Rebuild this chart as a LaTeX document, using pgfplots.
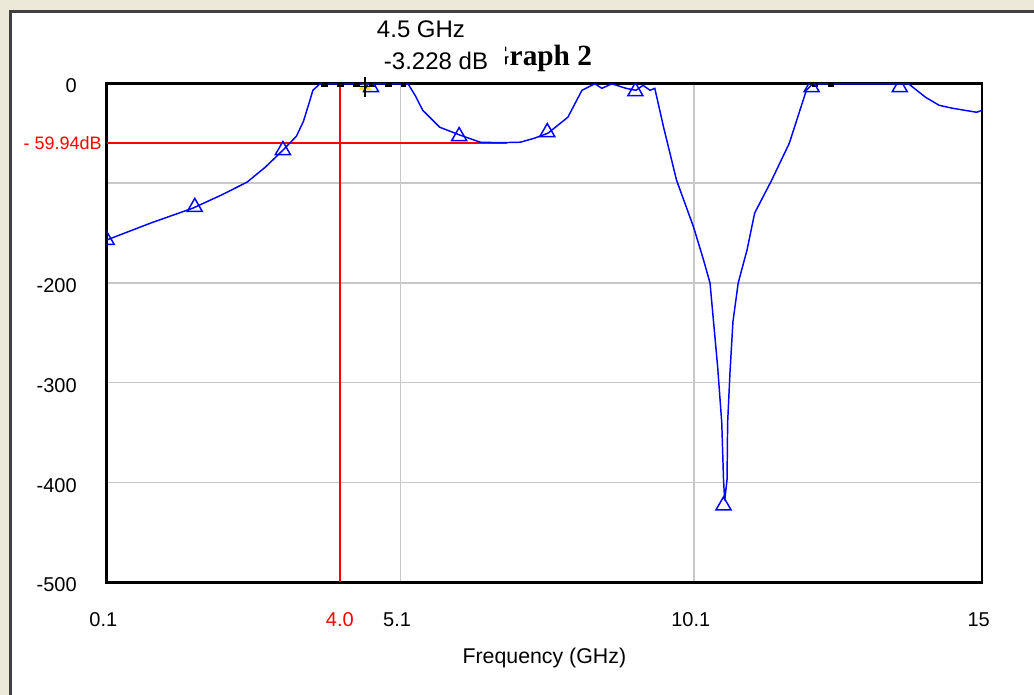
\documentclass[border=0pt]{standalone}
\usepackage{pgfplots}
\pgfplotsset{compat=1.18}
\usepackage{fontspec}
\setmainfont{Liberation Sans}
\newfontfamily\titlefont{Liberation Serif}
\definecolor{winbeige}{RGB}{236,233,216}
\definecolor{framegray}{RGB}{64,64,64}
\definecolor{gridgray}{RGB}{200,200,200}
\definecolor{cblue}{RGB}{0,0,255}
\definecolor{cred}{RGB}{255,0,0}
\definecolor{cyellow}{RGB}{255,230,0}

\begin{document}
\begin{tikzpicture}
\useasboundingbox (0,0) rectangle (775.5pt,521.25pt);
\fill[winbeige] (0,0) rectangle (775.5pt,521.25pt);
\fill[white] (6.75pt,0) rectangle (775.5pt,513.75pt);
\draw[framegray, line width=2.25pt] (7.9pt,0) -- (7.9pt,513pt);
\draw[framegray, line width=2.25pt] (6.75pt,512.6pt) -- (775.5pt,512.6pt);

\begin{axis}[
  at={(80pt,84.5pt)}, anchor=south west,
  width=656.5pt, height=374.25pt, scale only axis,
  xmin=0.1, xmax=15, ymin=-500, ymax=0,
  xtick={0.1,5.1,10.1,15}, xticklabels={0.1,5.1,10.1,15},
  ytick={-500,-400,-300,-200,-100,0}, yticklabels={-500,-400,-300,-200,{},0},
  major tick length=0pt,
  grid=major, major grid style={gridgray, line width=1.1pt},
  axis line style={black, line width=2pt},
  tick label style={font=\fontsize{15}{18}\selectfont, text=black},
  xticklabel style={anchor=center, yshift=-28.3pt, xshift=-2.5pt},
  yticklabel style={anchor=east, inner sep=0pt, xshift=-22.3pt, yshift=-2pt},
  xlabel={Frequency (GHz)},
  xlabel style={font=\fontsize{16}{19}\selectfont, at={(axis description cs:0.5,0)}, anchor=center, yshift=-56.8pt},
  clip marker paths=true,
  extra x ticks={4.07}, extra x tick labels={4.0},
  extra x tick style={grid=none, xticklabel style={text=cred, xshift=2.5pt}},
  extra y ticks={-59.94}, extra y tick labels={- 59.94dB},
  extra y tick style={grid=none, yticklabel style={text=cred, font=\fontsize{13.5}{16}\selectfont, xshift=18.8pt, yshift=2pt}},
]
\addplot[cred, line width=1.1pt] coordinates {(0.1,-59.94) (6.91,-59.94)};
\addplot[cred, line width=1.1pt] coordinates {(4.07,-500) (4.07,0)};
\addplot[only marks, mark=triangle*, mark size=5pt, mark options={cyellow, draw=none}] coordinates {(4.5,-3.228)};
\addplot[cblue, line width=1.1pt] coordinates {
(0.1,-157) (0.85,-140) (1.57,-125) (2.05,-112) (2.49,-99) (2.8,-84) (3.10,-67) (3.33,-53) (3.45,-38) (3.56,-17) (3.61,-7) (3.73,-0.5)
(5.23,-0.5) (5.35,-12) (5.48,-27) (5.77,-44) (6.12,-52) (6.46,-59) (6.80,-59.5) (7.14,-59) (7.38,-55) (7.61,-50) (7.95,-34) (8.19,-7)
(8.41,-0.5) (8.53,-5) (8.70,-0.5) (8.94,-5) (9.11,-7) (9.23,-2) (9.35,-7) (9.43,-5) (9.58,-44) (9.80,-97) (10.09,-144) (10.26,-177)
(10.37,-200) (10.50,-284) (10.57,-340) (10.60,-397) (10.62,-418) (10.66,-397) (10.67,-340) (10.71,-290) (10.76,-239) (10.85,-200)
(11.00,-167) (11.13,-130) (11.42,-97) (11.72,-60) (12.01,-7) (12.12,-0.5) (13.75,-0.5) (14.04,-14) (14.27,-22) (14.50,-25) (14.91,-29) (15.0,-27)
};
\addplot[black, line width=2.8pt, dash pattern=on 5pt off 7pt] coordinates {(3.75,-1.5) (5.2,-1.5)};
\addplot[black, line width=2.8pt, dash pattern=on 5pt off 7pt] coordinates {(12.1,-1.5) (12.55,-1.5)};
\addplot[only marks, mark=triangle, mark size=6.5pt, mark options={cblue, line width=1.1pt, fill=none}] coordinates {
(0.1,-157) (1.6,-124) (3.1,-67) (4.6,-4) (6.1,-53) (7.6,-49) (9.1,-8) (10.6,-423) (12.1,-4) (13.6,-4)
};
\end{axis}

\begin{axis}[
  at={(80pt,84.5pt)}, anchor=south west,
  width=656.5pt, height=374.25pt, scale only axis,
  xmin=0.1, xmax=15, ymin=-500, ymax=0, hide axis, clip=false,
]
\addplot[only marks, mark=+, mark size=7.5pt, mark options={black, line width=1pt, xscale=0.7}] coordinates {(4.5,-3.228)};
\end{axis}

\node[font=\titlefont\bfseries\fontsize{22}{26}\selectfont, anchor=base] at (404.6pt,471.75pt) {Graph 2};
\fill[white] (283.5pt,465pt) rectangle (378.75pt,487.5pt);
\node[font=\fontsize{18}{21}\selectfont] at (327pt,475.5pt) {-3.228 dB};
\node[font=\fontsize{18}{21}\selectfont] at (315.75pt,499.5pt) {4.5 GHz};
\end{tikzpicture}
\end{document}
